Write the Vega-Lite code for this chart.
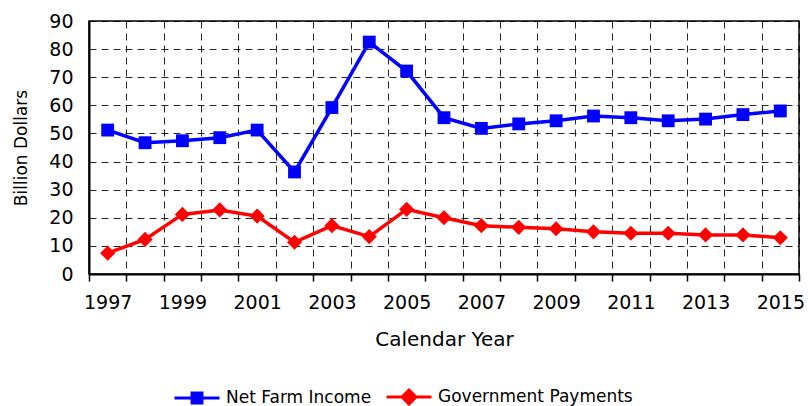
{
  "$schema": "https://vega.github.io/schema/vega-lite/v6.json",
  "width": 710,
  "height": 253,
  "autosize": {"type": "none"},
  "padding": {"left": 89, "top": 21, "right": 9, "bottom": 132},
  "background": "white",
  "config": {
    "font": "DejaVu Sans",
    "view": {"stroke": "black", "strokeWidth": 1.5},
    "axis": {
      "labelFont": "DejaVu Sans",
      "titleFont": "DejaVu Sans",
      "labelColor": "black",
      "titleColor": "black",
      "labelFontSize": 19,
      "titleFontWeight": "normal",
      "domainColor": "black",
      "domainWidth": 2,
      "tickColor": "black",
      "tickWidth": 1.5,
      "gridColor": "black",
      "gridOpacity": 0.85,
      "gridDash": [7, 5],
      "gridWidth": 1
    }
  },
  "data": {
    "values": [
      {"year": 1997, "series": "Net Farm Income", "value": 51.2},
      {"year": 1998, "series": "Net Farm Income", "value": 46.7},
      {"year": 1999, "series": "Net Farm Income", "value": 47.4},
      {"year": 2000, "series": "Net Farm Income", "value": 48.5},
      {"year": 2001, "series": "Net Farm Income", "value": 51.2},
      {"year": 2002, "series": "Net Farm Income", "value": 36.3},
      {"year": 2003, "series": "Net Farm Income", "value": 59.2},
      {"year": 2004, "series": "Net Farm Income", "value": 82.5},
      {"year": 2005, "series": "Net Farm Income", "value": 72.2},
      {"year": 2006, "series": "Net Farm Income", "value": 55.6},
      {"year": 2007, "series": "Net Farm Income", "value": 51.8},
      {"year": 2008, "series": "Net Farm Income", "value": 53.4},
      {"year": 2009, "series": "Net Farm Income", "value": 54.5},
      {"year": 2010, "series": "Net Farm Income", "value": 56.2},
      {"year": 2011, "series": "Net Farm Income", "value": 55.6},
      {"year": 2012, "series": "Net Farm Income", "value": 54.5},
      {"year": 2013, "series": "Net Farm Income", "value": 55.1},
      {"year": 2014, "series": "Net Farm Income", "value": 56.7},
      {"year": 2015, "series": "Net Farm Income", "value": 58.0},
      {"year": 1997, "series": "Government Payments", "value": 7.4},
      {"year": 1998, "series": "Government Payments", "value": 12.3},
      {"year": 1999, "series": "Government Payments", "value": 21.2},
      {"year": 2000, "series": "Government Payments", "value": 22.8},
      {"year": 2001, "series": "Government Payments", "value": 20.6},
      {"year": 2002, "series": "Government Payments", "value": 11.3},
      {"year": 2003, "series": "Government Payments", "value": 17.2},
      {"year": 2004, "series": "Government Payments", "value": 13.3},
      {"year": 2005, "series": "Government Payments", "value": 23.0},
      {"year": 2006, "series": "Government Payments", "value": 20.0},
      {"year": 2007, "series": "Government Payments", "value": 17.2},
      {"year": 2008, "series": "Government Payments", "value": 16.6},
      {"year": 2009, "series": "Government Payments", "value": 16.1},
      {"year": 2010, "series": "Government Payments", "value": 15.0},
      {"year": 2011, "series": "Government Payments", "value": 14.5},
      {"year": 2012, "series": "Government Payments", "value": 14.5},
      {"year": 2013, "series": "Government Payments", "value": 13.9},
      {"year": 2014, "series": "Government Payments", "value": 13.9},
      {"year": 2015, "series": "Government Payments", "value": 12.9}
    ]
  },
  "encoding": {
    "x": {
      "field": "year",
      "type": "ordinal",
      "scale": {"type": "band", "paddingInner": 0, "paddingOuter": 0},
      "axis": {
        "title": "Calendar Year",
        "titleFontSize": 20,
        "titlePadding": 17,
        "labelAngle": 0,
        "labelPadding": 12,
        "tickBand": "extent",
        "tickSize": 7,
        "grid": true,
        "labelExpr": "datum.value % 2 == 1 ? datum.label : ''"
      }
    },
    "y": {
      "field": "value",
      "type": "quantitative",
      "scale": {"domain": [0, 90], "nice": false},
      "axis": {
        "title": "Billion Dollars",
        "titleFontSize": 17,
        "titlePadding": 18,
        "values": [0, 10, 20, 30, 40, 50, 60, 70, 80, 90],
        "ticks": false,
        "labelPadding": 16,
        "grid": true
      }
    },
    "color": {
      "field": "series",
      "type": "nominal",
      "scale": {
        "domain": ["Net Farm Income", "Government Payments"],
        "range": ["#0000FF", "#FF0000"]
      },
      "legend": {
        "title": null,
        "orient": "none",
        "direction": "horizontal",
        "legendX": 84,
        "legendY": 352,
        "labelFontSize": 17,
        "labelColor": "black",
        "labelFont": "DejaVu Sans",
        "labelOffset": 5,
        "columnPadding": 8,
        "symbolSize": 2025,
        "symbolStrokeWidth": 3,
        "labelLimit": 300,
        "encode": {
          "symbols": {
            "update": {
              "shape": {
                "signal": "datum.value == 'Net Farm Income' ? 'M-1,0H1M-0.22,-0.22H0.22V0.22H-0.22Z' : 'M-1,0H1M0,-0.31L0.31,0L0,0.31L-0.31,0Z'"
              },
              "fill": {"signal": "scale('color', datum.value)"},
              "stroke": {"signal": "scale('color', datum.value)"},
              "strokeWidth": {"value": 3},
              "opacity": {"value": 1}
            }
          }
        }
      }
    }
  },
  "layer": [
    {
      "mark": {"type": "line", "strokeWidth": 3.5}
    },
    {
      "transform": [{"filter": "datum.series == 'Net Farm Income'"}],
      "mark": {"type": "point", "filled": true, "opacity": 1, "size": 165, "shape": "square"}
    },
    {
      "transform": [{"filter": "datum.series == 'Government Payments'"}],
      "mark": {"type": "point", "filled": true, "opacity": 1, "size": 230, "shape": "diamond"}
    }
  ]
}
